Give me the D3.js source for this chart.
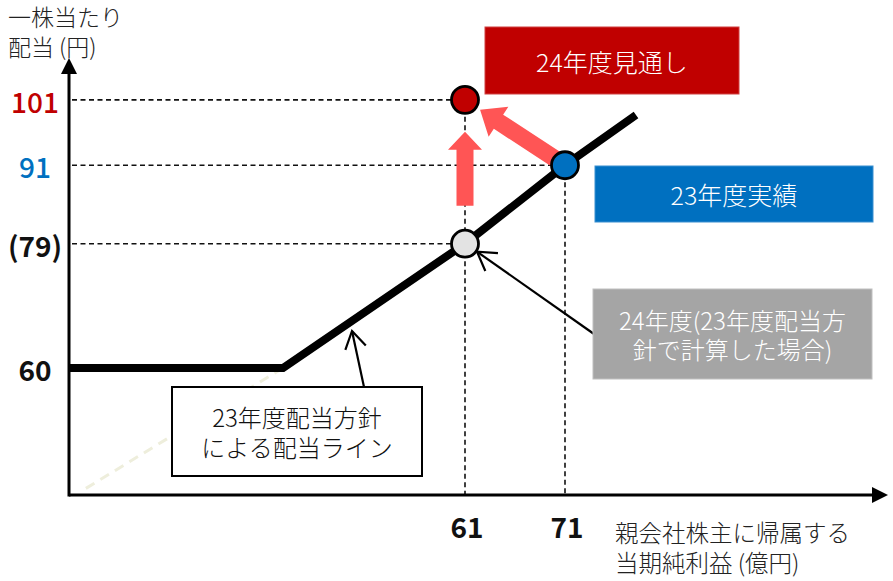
<!DOCTYPE html>
<html><head><meta charset="utf-8">
<script src="https://cdn.jsdelivr.net/npm/d3@7"></script>
<style>
html,body{margin:0;padding:0;background:#fff;}
svg text{font-family:"Noto Sans CJK JP","Noto Sans",sans-serif;}
</style></head>
<body>
<svg id="c" width="893" height="581"></svg>
<script>
// ---- data ----
const yTickValues = [101, 91, 79, 60];
const yTickLabels = ["101", "91", "(79)", "60"];
const xTickValues = [61, 71];
const xTickLabels = ["61", "71"];
const policyX = [21.4, 42.8, 61, 71, 78.1];
const policyY = [60, 60, 79, 91, 98.7];
const extensionX = [42.8, 23];
const extensionY = [60, 41.5];
const pointNames = ["24年度(23年度配当方針で計算した場合)", "23年度実績", "24年度見通し"];
const pointX = [61, 71, 61];
const pointY = [79, 91, 101];
const yTitle = ["一株当たり", "配当 (円)"];
const xTitle = ["親会社株主に帰属する", "当期純利益 (億円)"];

// ---- styles ----
const yTickColor = {"101": "#C00000", "91": "#0070C0", "(79)": "#111", "60": "#111"};
const yTickWeight = {"101": "500", "91": "500", "(79)": "bold", "60": "bold"};
const pointFill = ["#E3E3E3", "#0070C0", "#C00000"];
const arrowRed = "#FF5555";

const svg = d3.select("#c");
const x = d3.scaleLinear().domain([21.4, 103.2]).range([69, 887]);
const y = d3.scaleLinear().domain([40.57, 107.4]).range([495, 58]);
const x0 = x(21.4), y0 = y(40.57);

// faint dashed extension
svg.append("path")
  .attr("d", d3.line()(extensionX.map((v, i) => [x(v), y(extensionY[i])])))
  .attr("stroke", "#EEEEDC").attr("stroke-width", 3).attr("stroke-dasharray", "10,7").attr("fill", "none");

// dashed guides
const g = svg.append("g").attr("stroke", "#111").attr("stroke-width", 1.6).attr("stroke-dasharray", "5,3.5").attr("fill", "none");
pointX.forEach((px, i) => {
  g.append("line").attr("x1", x0 + 3).attr("x2", x(px)).attr("y1", y(pointY[i])).attr("y2", y(pointY[i]));
});
[2, 1].forEach(i => {
  g.append("line").attr("x1", x(pointX[i])).attr("x2", x(pointX[i])).attr("y1", y(pointY[i])).attr("y2", y0);
});

// axes
const ax = svg.append("g");
ax.append("line").attr("x1", x0).attr("x2", 874).attr("y1", y0).attr("y2", y0).attr("stroke", "#000").attr("stroke-width", 3);
ax.append("path").attr("d", `M888,${y0} L872,${y0 - 8} L872,${y0 + 8} Z`).attr("fill", "#000");
ax.append("line").attr("x1", x0).attr("x2", x0).attr("y1", y0 + 1.5).attr("y2", 72).attr("stroke", "#000").attr("stroke-width", 3);
ax.append("path").attr("d", `M${x0},58 L${x0 - 8},74 L${x0 + 8},74 Z`).attr("fill", "#000");

// policy line
svg.append("path")
  .attr("d", d3.line()(policyX.map((v, i) => [x(v), y(policyY[i])])))
  .attr("stroke", "#000").attr("stroke-width", 8).attr("fill", "none").attr("stroke-linejoin", "miter");

// red block arrows
function blockArrow(x1, y1, x2, y2, sw, hw, hl) {
  const dx = x2 - x1, dy = y2 - y1, L = Math.hypot(dx, dy);
  const ux = dx / L, uy = dy / L, nx = -uy, ny = ux;
  const bx = x2 - ux * hl, by = y2 - uy * hl;
  const p = [
    [x1 + nx * sw / 2, y1 + ny * sw / 2],
    [bx + nx * sw / 2, by + ny * sw / 2],
    [bx + nx * hw / 2, by + ny * hw / 2],
    [x2, y2],
    [bx - nx * hw / 2, by - ny * hw / 2],
    [bx - nx * sw / 2, by - ny * sw / 2],
    [x1 - nx * sw / 2, y1 - ny * sw / 2]
  ];
  return "M" + p.map(q => q.join(",")).join("L") + "Z";
}
function towards(i, j, d) {
  const ax1 = x(pointX[i]), ay1 = y(pointY[i]), bx1 = x(pointX[j]), by1 = y(pointY[j]);
  const L = Math.hypot(bx1 - ax1, by1 - ay1);
  return [ax1 + (bx1 - ax1) * d / L, ay1 + (by1 - ay1) * d / L];
}
{
  const s = towards(0, 2, 38), e = towards(2, 0, 32);
  svg.append("path").attr("d", blockArrow(s[0], s[1], e[0], e[1], 17, 34, 18)).attr("fill", arrowRed);
  const s2 = towards(1, 2, 12), e2 = towards(2, 1, 18);
  svg.append("path").attr("d", blockArrow(s2[0], s2[1], e2[0], e2[1], 17, 36, 22)).attr("fill", arrowRed);
}

// points
svg.selectAll("circle.pt").data(pointX).join("circle")
  .attr("class", "pt")
  .attr("cx", d => x(d)).attr("cy", (d, i) => y(pointY[i])).attr("r", 13.5)
  .attr("fill", (d, i) => pointFill[i]).attr("stroke", "#000").attr("stroke-width", 2.8);

// thin annotation arrows
function thinArrow(x1, y1, x2, y2, armL, ang) {
  const a = Math.atan2(y1 - y2, x1 - x2);
  const p1 = [x2 + armL * Math.cos(a + ang), y2 + armL * Math.sin(a + ang)];
  const p2 = [x2 + armL * Math.cos(a - ang), y2 + armL * Math.sin(a - ang)];
  svg.append("line").attr("x1", x1).attr("y1", y1).attr("x2", x2).attr("y2", y2).attr("stroke", "#000").attr("stroke-width", 2.2);
  svg.append("path").attr("d", `M${p1[0]},${p1[1]} L${x2},${y2} L${p2[0]},${p2[1]}`).attr("stroke", "#000").attr("stroke-width", 2.2).attr("fill", "none");
}
thinArrow(364, 387, 352, 331, 20, 0.55);
thinArrow(594, 334, x(pointX[0]) + 12, y(pointY[0]) + 8, 21, 0.55);

// boxes
function box(x1, y1, w, h, fill, stroke, sw, lines, color, fs, lineGap) {
  svg.append("rect").attr("x", x1).attr("y", y1).attr("width", w).attr("height", h)
    .attr("fill", fill).attr("stroke", stroke).attr("stroke-width", sw);
  const cy = y1 + h / 2 - (lines.length - 1) * lineGap / 2;
  lines.forEach((t, i) => {
    svg.append("text").attr("x", x1 + w / 2).attr("y", cy + i * lineGap)
      .attr("text-anchor", "middle").attr("dominant-baseline", "central")
      .attr("fill", color).attr("font-size", fs).attr("font-weight", 300).text(t);
  });
}
box(485, 27, 254, 67, "#C00000", "#D04040", 1, ["24年度見通し"], "#fff", 25, 0);
box(595, 166, 278, 56, "#0070C0", "#3A8FD0", 1, ["23年度実績"], "#fff", 25, 0);
box(593, 289, 279, 90, "#A5A5A5", "#C0C0C0", 1, ["24年度(23年度配当方", "針で計算した場合)"], "#fff", 24, 29);
box(172, 387, 250, 89, "#fff", "#000", 2, ["23年度配当方針", "による配当ライン"], "#111", 24, 30);

// y tick labels
svg.selectAll("text.yt").data(yTickValues).join("text")
  .attr("class", "yt")
  .attr("x", 35).attr("y", d => y(d) + 1)
  .attr("text-anchor", "middle").attr("dominant-baseline", "central")
  .attr("font-size", 28)
  .attr("fill", (d, i) => yTickColor[yTickLabels[i]])
  .attr("font-weight", (d, i) => yTickWeight[yTickLabels[i]])
  .text((d, i) => yTickLabels[i]);

// x tick labels
svg.selectAll("text.xt").data(xTickValues).join("text")
  .attr("class", "xt")
  .attr("x", d => x(d) + 2).attr("y", 526)
  .attr("text-anchor", "middle").attr("dominant-baseline", "central")
  .attr("font-size", 28).attr("font-weight", "bold").attr("fill", "#111")
  .text((d, i) => xTickLabels[i]);

// axis titles
yTitle.forEach((t, i) => {
  svg.append("text").attr("x", 8).attr("y", 16 + i * 30).attr("dominant-baseline", "central")
    .attr("font-size", 23).attr("font-weight", 300).attr("fill", "#222").text(t);
});
xTitle.forEach((t, i) => {
  svg.append("text").attr("x", 615).attr("y", 532 + i * 30).attr("dominant-baseline", "central")
    .attr("font-size", 23.5).attr("font-weight", 300).attr("fill", "#222").text(t);
});
</script>
</body></html>
